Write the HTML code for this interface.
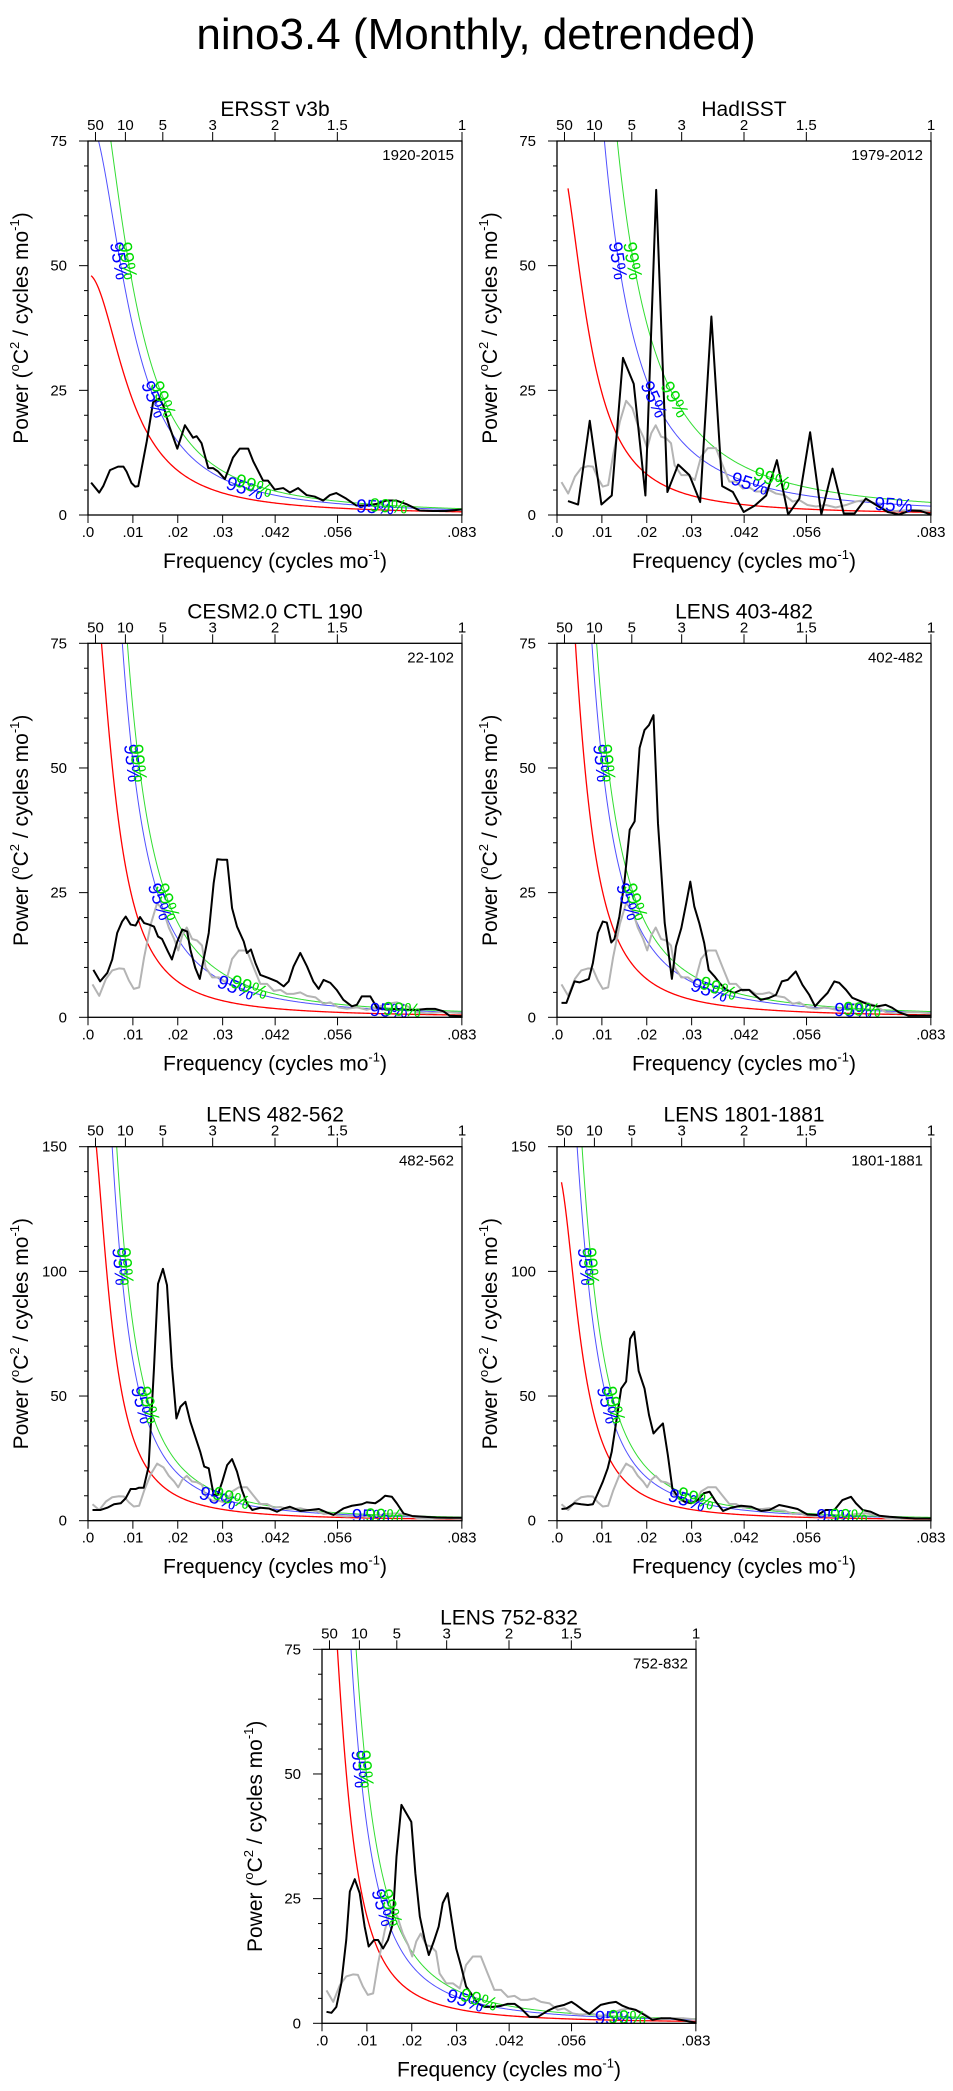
<!DOCTYPE html>
<html><head><meta charset="utf-8"><style>
html,body{margin:0;padding:0;background:#fff;}
svg{display:block;font-family:"Liberation Sans",Arial,sans-serif;}
</style></head><body>
<svg id="chart" width="953" height="2091" viewBox="0 0 953 2091" xmlns="http://www.w3.org/2000/svg">
<text x="476" y="49" font-size="44" text-anchor="middle">nino3.4 (Monthly, detrended)</text>
</svg>
<script>
// ---------- data ----------
const grayFreq = [.001,.0025,.004,.0054,.0069,.008,.0091,.0102,.0114,.0125,.014,.0154,.0168,.018,.0192,.0201,.021,.022,.0232,.0243,.0254,.0262,.0277,.0292,.0307,.0321,.0336,.0354,.0369,.0384,.0399,.0414,.0429,.0443,.0458,.0473,.0488,.0507,.0525,.054,.0558,.0577,.0599,.0621,.0644,.0666,.0688,.071,.0733,.0755,.0784,.0807,.0833];
const grayPower = [6.6,4.3,7.7,9.4,9.8,9.7,7.4,5.7,6.0,12.0,18.7,22.9,21.4,18.0,15.7,13.4,16.4,18.0,15.7,15.4,14.4,10.0,8.0,8.0,7.0,11.7,13.4,13.4,10.0,6.7,6.7,5.3,5.5,4.7,4.7,5.0,4.3,4.0,2.7,3.0,2.0,1.7,2.0,1.5,2.0,2.7,3.0,2.3,1.0,0.8,1.0,1.0,0.8];

const freqERSST = [.0007,.0025,.0034,.0049,.0067,.0079,.0086,.0097,.0105,.0112,.0131,.0145,.0159,.0168,.0182,.0199,.0216,.0234,.0242,.0253,.0268,.0279,.029,.0305,.0323,.0338,.0357,.0368,.039,.0401,.0416,.0435,.045,.0468,.0487,.0505,.0524,.0539,.0553,.0575,.0598,.062,.0642,.0665,.0687,.0709,.0739,.0769,.0798,.0832];
const powerERSST = [6.5,4.5,5.8,9.0,9.7,9.7,8.7,6.4,5.7,5.8,14.8,22.6,23.4,21.9,17.6,13.3,18.0,15.5,15.8,14.4,9.4,9.4,8.7,7.2,11.5,13.3,13.3,10.8,6.9,6.9,5.1,5.4,4.5,5.4,4.0,3.7,2.9,4.0,4.4,3.3,1.9,1.9,2.2,2.9,2.9,2.2,0.9,0.8,0.8,1.1];

const freqHad = [.00245,.0047,.0073,.0099,.0122,.0147,.0171,.0197,.0221,.0246,.027,.0295,.0319,.0344,.0368,.0392,.0416,.0441,.0466,.049,.0515,.054,.0564,.0589,.0614,.0639,.0663,.0688,.0713,.0737,.0762,.0787,.0811,.0833];
const powerHad = [2.8,2.1,18.9,2.1,3.9,31.5,26.3,3.9,65.2,4.6,10.1,8.0,2.6,39.8,5.8,4.6,0.6,1.9,3.9,11.0,0.1,3.3,16.6,0.1,9.3,0.3,0.3,3.3,1.9,0.6,0.1,0.9,0.8,0.1];

const freqCESM = [.0012,.0027,.0043,.0054,.0065,.0076,.0084,.0095,.0106,.0116,.0125,.0136,.0147,.0156,.0165,.0178,.0187,.0199,.021,.0221,.0228,.0239,.0249,.0262,.0269,.028,.0288,.0299,.031,.0321,.0332,.0347,.0354,.0363,.0373,.0384,.0402,.0421,.0436,.0447,.0458,.0473,.0488,.0502,.0514,.0525,.054,.0554,.0569,.0588,.0599,.061,.0629,.0644,.0666,.0688,.071,.0732,.0755,.0773,.0792,.0806,.0833];
const powerCESM = [9.5,7.2,8.9,11.6,16.9,19.2,20.2,18.6,18.4,20.1,18.9,18.6,18.2,16.2,15.7,13.2,11.6,15.2,17.6,17.2,13.6,9.9,7.7,13.6,16.9,26.9,31.7,31.6,31.6,21.9,18.2,15.2,12.9,13.6,10.9,8.5,7.9,7.2,6.2,7.2,10.2,12.9,10.2,7.2,5.7,7.5,6.9,5.5,3.5,2.2,2.5,4.2,4.2,1.9,1.5,1.7,1.5,1.5,1.7,1.7,1.2,0.3,0.2];

const freqL403 = [.001,.0021,.0039,.005,.0071,.008,.0091,.0102,.0111,.0121,.0128,.0139,.015,.0162,.0173,.0184,.0195,.0205,.0215,.0225,.024,.0256,.0265,.0277,.0288,.0297,.0306,.0317,.0328,.0338,.0351,.0362,.0377,.0395,.041,.0428,.044,.0454,.0473,.0488,.0501,.0514,.0532,.0547,.0562,.0575,.0588,.0603,.0618,.0629,.0644,.0658,.0677,.0695,.0714,.0732,.0747,.0762,.0784,.0806,.0833];
const powerL403 = [2.9,2.9,7.2,7.0,7.7,10.9,16.9,19.2,19.0,15.0,15.7,20.2,26.9,37.6,39.3,54,57.6,58.6,60.6,38.9,18.9,7.7,14.2,17.9,22.9,27.2,22.2,18.9,14.9,9.5,8.2,6.9,5.5,4.9,5.5,5.5,4.5,3.5,3.9,4.5,7.2,7.5,9.2,6.5,4.5,2.2,3.5,4.9,7.2,6.9,5.5,3.9,3.2,2.5,2.2,2.5,1.9,1.0,0.3,0.3,0.3];

const freqL482 = [.001,.0028,.0043,.0058,.0073,.0084,.0095,.0106,.0113,.0124,.0135,.0147,.0156,.0167,.0176,.0187,.0197,.0206,.0217,.0228,.0239,.025,.0259,.0269,.028,.0289,.0299,.031,.0321,.0332,.0343,.0354,.0366,.0384,.0403,.0421,.0436,.045,.0473,.0495,.0514,.0532,.0547,.0569,.0588,.061,.0621,.064,.0651,.0662,.0677,.0688,.0703,.0722,.0748,.0777,.0806,.0833];
const powerL482 = [4.3,4.3,5.2,6.6,7.0,9.0,12.7,12.7,13.2,13.2,21.7,61,95,101,94.5,62,41,45.7,47.7,39.7,33.7,27.7,21.7,21,10.3,10.3,15.6,22.3,24.7,19.7,12.3,7.0,4.3,5.2,4.9,3.6,4.9,5.6,3.9,4.3,4.7,3.3,2.3,4.9,6.0,6.6,7.4,7.0,8.3,10.0,9.6,7.0,2.9,1.9,1.6,1.3,1.2,1.2];

const freqL1801 = [.001,.0021,.0039,.0054,.0069,.008,.0091,.0102,.0113,.0122,.0132,.0143,.0154,.0163,.0172,.0182,.0195,.0205,.0215,.0225,.0236,.0247,.0257,.0269,.0284,.0299,.0314,.0327,.034,.0354,.037,.0388,.041,.0433,.0455,.0473,.0495,.0514,.0536,.0558,.058,.0599,.0618,.0636,.0655,.0666,.0681,.0699,.0718,.074,.077,.0799,.0833];
const powerL1801 = [4.7,4.9,7.0,6.6,6.3,6.6,11,15.6,21,27.7,39.7,53,55.8,73,75.8,60,53,42.4,35,37,39,26.3,13,9.6,7.6,7.0,8.3,11,11.6,7.6,3.9,5.2,6.0,5.6,3.9,4.3,6.3,5.6,4.7,2.5,2.3,4.3,4.3,8.3,9.6,7.0,4.3,3.6,2.0,1.6,1.2,0.9,0.9];

const freqL752 = [.001,.0021,.0032,.0043,.0054,.0062,.0073,.0084,.0095,.0104,.0116,.0125,.0136,.0147,.0157,.0166,.0177,.0188,.0199,.0208,.0218,.0229,.0238,.0249,.026,.0269,.028,.0289,.0299,.031,.0321,.0332,.0347,.0362,.0381,.0399,.0414,.0429,.0443,.0462,.0481,.0503,.0521,.054,.0556,.0566,.0581,.0596,.0607,.0621,.064,.0655,.067,.0684,.0699,.0718,.0736,.0755,.0777,.0799,.0833];
const powerL752 = [2.3,2.1,3.3,8.0,16.7,26.4,28.9,26.1,19.4,15.4,16.7,16.7,15,16.7,19.7,33.4,43.8,42.1,40.4,30.1,21.4,16.7,13.7,16.4,19.4,24.1,26.1,20.7,15,11.4,7.4,6.0,4.0,3.3,3.3,3.5,3.9,3.9,3.0,1.3,1.3,2.5,3.3,3.7,4.3,3.7,2.7,1.9,2.7,3.7,4.1,4.3,3.5,3.0,2.7,1.7,0.7,1.0,1.0,0.7,0.1];

// red-noise (AR1) fit parameters and confidence multipliers per panel
const redLag1 = [0.942, 0.9565, 0.965, 0.968, 0.9695, 0.9665, 0.97];
const redScale = [0.1623, 0.1388, 0.1177, 0.125, 0.1594, 0.1575, 0.1014];
const redStartFreq = [0.0007, 0.00245, 0.001, 0.001, 0.001, 0.001, 0.001];
const ci95Factor = [1.65, 3.3, 2.2, 2.0, 1.92, 1.8, 1.85];
const ci99Factor = [2.0, 4.7, 2.65, 2.4, 2.35, 2.2, 2.3];

const panelTitles = ["ERSST v3b","HadISST","CESM2.0 CTL 190","LENS 403-482","LENS 482-562","LENS 1801-1881","LENS 752-832"];
const yearLabels = ["1920-2015","1979-2012","22-102","402-482","482-562","1801-1881","752-832"];
const yMaxes = [75,75,75,75,150,150,75];
const xTickValues = [0,0.01,0.02,0.03,0.0417,0.0556,0.0833];
const xTickLabels = [".0",".01",".02",".03",".042",".056",".083"];
const periodValues = [50,10,5,3,2,1.5,1];
const periodLabels = ["50","10","5","3","2","1.5","1"];

// ---------- layout ----------
const W = 374, H = 374, FMAX = 1/12;
const lefts = [88,557,88,557,88,557,322];
const tops = [141,141,643.3,643.3,1146.7,1146.7,1649.3];
const blackF = [freqERSST,freqHad,freqCESM,freqL403,freqL482,freqL1801,freqL752];
const blackP = [powerERSST,powerHad,powerCESM,powerL403,powerL482,powerL1801,powerL752];
const labelF3 = [[.035,.037],[.043,.048],[.033,.036],[.034,.036],[.029,.032],[.029,.031],[.032,.035]];
const labelF4 = [[.064,.067],[.075,null],[.067,.07],[.066,.068],[.063,.066],[.062,.065],[.065,.068]];

const NS = "http://www.w3.org/2000/svg";
const svg = document.getElementById('chart');
function mk(tag, attrs, parent){
  const e = document.createElementNS(NS, tag);
  for (const k in attrs) e.setAttribute(k, attrs[k]);
  (parent||svg).appendChild(e);
  return e;
}
function redNoise(i,f){
  const r = redLag1[i];
  return redScale[i]/(1 + r*r - 2*r*Math.cos(2*Math.PI*f));
}

for (let i=0;i<7;i++){
  const L = lefts[i], T = tops[i], ymax = yMaxes[i];
  const xs = f => L + f/FMAX*W;
  const ys = v => T + H - v/ymax*H;
  const g = mk('g', {});
  
  

  const clipId = 'clip'+i;
  const cp = mk('clipPath', {id:clipId}, g);
  mk('rect', {x:L, y:T, width:W, height:H}, cp);

  const tt = mk('text', {x:L+W/2, y:T-25, 'font-size':21, 'text-anchor':'middle'}, g);
  tt.textContent = panelTitles[i];
  
  

  const yl = mk('text', {x:L+W-8, y:T+19, 'font-size':15, 'text-anchor':'end'}, g);
  yl.textContent = yearLabels[i];
  
  

  const minorStep = ymax===150 ? 10 : 5, majorStep = ymax/3;
  for (let v=0; v<=ymax+0.001; v+=minorStep){
    const isMajor = Math.abs(v/majorStep - Math.round(v/majorStep))<1e-6;
    const tk = mk('line', {x1:L-(isMajor?9:4), x2:L, y1:ys(v), y2:ys(v), stroke:'#000','stroke-width':1}, g);
    
    
    if (isMajor){
      const lb = mk('text', {x:L-21, y:ys(v)+5, 'font-size':15, 'text-anchor':'end'}, g);
      lb.textContent = String(Math.round(v));
      
      
    }
  }
  xTickValues.forEach((f,k)=>{
    const tk = mk('line', {x1:xs(f), x2:xs(f), y1:T+H, y2:T+H+8, stroke:'#000','stroke-width':1}, g);
    
    
    const lb = mk('text', {x:xs(f), y:T+H+22, 'font-size':15, 'text-anchor':'middle'}, g);
    lb.textContent = xTickLabels[k];
    
    
  });
  periodValues.forEach((p,k)=>{
    const f = 1/(12*p);
    const tk = mk('line', {x1:xs(f), x2:xs(f), y1:T-9, y2:T, stroke:'#000','stroke-width':1}, g);
    
    
    const lb = mk('text', {x:xs(f), y:T-11, 'font-size':15, 'text-anchor':'middle'}, g);
    lb.textContent = periodLabels[k];
    
    
  });
  const xt = mk('text', {x:L+W/2, y:T+H+53, 'font-size':21, 'text-anchor':'middle'}, g);
  
  
  xt.innerHTML = 'Frequency (cycles mo<tspan font-size="13" dy="-9">-1</tspan><tspan dy="9">)</tspan>';
  const cx = L-60, cy = T+H/2;
  const yt = mk('text', {x:cx, y:cy, 'font-size':21, 'text-anchor':'middle', transform:`rotate(-90 ${cx} ${cy})`}, g);
  
  
  yt.innerHTML = 'Power (<tspan font-size="13" dy="-9">o</tspan><tspan dy="9">C</tspan><tspan font-size="13" dy="-9">2</tspan><tspan dy="9"> / cycles mo</tspan><tspan font-size="13" dy="-9">-1</tspan><tspan dy="9">)</tspan>';

  const plot = mk('g', {'clip-path':`url(#${clipId})`}, g);

  const f0 = redStartFreq[i];
  const N = 300;
  const curve = (mult) => {
    let d = '';
    for (let k=0;k<=N;k++){
      const f = f0 + (FMAX-f0)*k/N;
      d += (k?'L':'M') + xs(f).toFixed(2) + ',' + ys(redNoise(i,f)*mult).toFixed(2);
    }
    return d;
  };
  const rl = mk('path', {d:curve(1), fill:'none', stroke:'#ff0000', 'stroke-width':1.3}, plot);
  
  
  const bl = mk('path', {d:curve(ci95Factor[i]), fill:'none', stroke:'#5050ff', 'stroke-width':1}, plot);
  
  
  const gl = mk('path', {d:curve(ci99Factor[i]), fill:'none', stroke:'#33dd33', 'stroke-width':1}, plot);
  
  

  if (i>0){
    const gd = grayFreq.map((f,k)=>(k?'L':'M')+xs(f).toFixed(2)+','+ys(grayPower[k]).toFixed(2)).join('');
    const gp = mk('path', {d:gd, fill:'none', stroke:'#b4b4b4', 'stroke-width':2, 'stroke-linejoin':'round'}, plot);
    
    
  }
  const bf = blackF[i], bp = blackP[i];
  const bd = bf.map((f,k)=>(k?'L':'M')+xs(f).toFixed(2)+','+ys(bp[k]).toFixed(2)).join('');
  const bpath = mk('path', {d:bd, fill:'none', stroke:'#000', 'stroke-width':2, 'stroke-linejoin':'round'}, plot);
  
  

  const placeLabel = (mult, f, txt, color) => {
    const v = redNoise(i,f)*mult;
    const x = xs(f), y = ys(v);
    const df = 0.0005;
    const dx = xs(f+df)-xs(f-df), dy = ys(redNoise(i,f+df)*mult)-ys(redNoise(i,f-df)*mult);
    const ang = Math.atan2(dy,dx)*180/Math.PI;
    const t = mk('text', {x:x, y:y+7, 'font-size':19, 'text-anchor':'middle', fill:color, transform:`rotate(${ang.toFixed(1)} ${x} ${y})`}, plot);
    t.textContent = txt;
    
    
  };
  const freqAt = (mult, target) => {
    let lo = f0, hi = FMAX;
    for (let k=0;k<60;k++){ const m=(lo+hi)/2; if (redNoise(i,m)*mult>target) lo=m; else hi=m; }
    return (lo+hi)/2;
  };
  [[ci95Factor[i],'95%','#0000ff',0],[ci99Factor[i],'99%','#00dd00',1]].forEach(([m,txt,col,j])=>{
    placeLabel(m, freqAt(m, ymax*0.68), txt, col);
    placeLabel(m, freqAt(m, ymax*0.31), txt, col);
    if (labelF3[i][j]) placeLabel(m, labelF3[i][j], txt, col);
    if (labelF4[i][j]) placeLabel(m, labelF4[i][j], txt, col);
  });

  const fr = mk('rect', {x:L, y:T, width:W, height:H, fill:'none', stroke:'#000', 'stroke-width':1.3}, g);
  
  
}
</script>
</body></html>
